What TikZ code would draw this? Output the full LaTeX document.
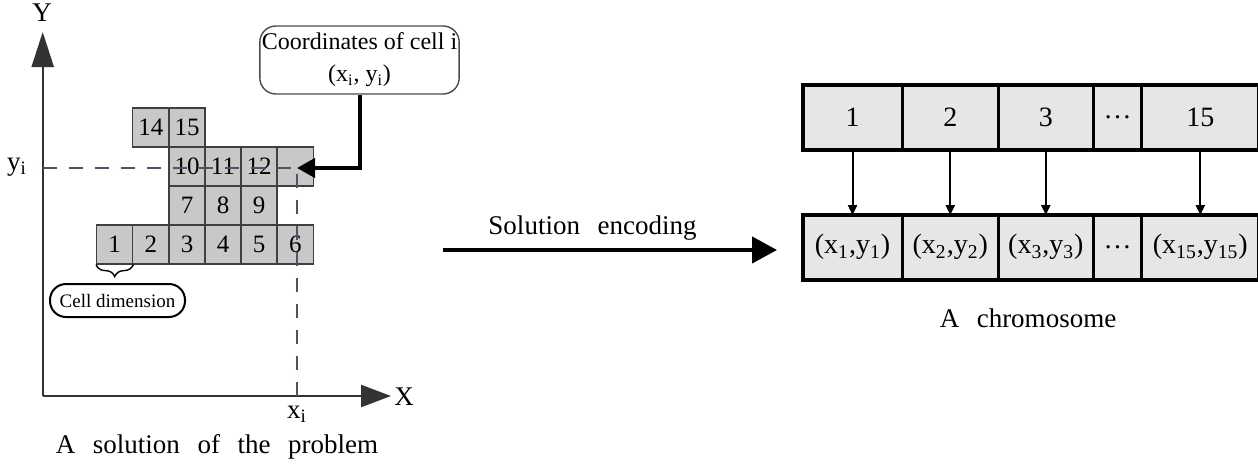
\documentclass[tikz,border=0pt]{standalone}
\usepackage{fontspec}
\setmainfont{Liberation Serif}
\usetikzlibrary{arrows.meta,positioning,decorations.pathreplacing}
\definecolor{cellfill}{RGB}{200,200,200}
\definecolor{celledge}{RGB}{64,64,64}
\definecolor{genefill}{RGB}{230,230,230}
\definecolor{dashcol}{RGB}{75,85,99}
\newcommand{\idx}[1]{\textsubscript{#1}}
\newcommand{\pair}[1]{(x\idx{#1},y\idx{#1})}
\newcommand{\widespace}{\spaceskip 0.65em plus 0.1em\relax}

\begin{document}
\begin{tikzpicture}[x=0.5pt,y=-0.5pt,
    cell/.style={draw=celledge,fill=cellfill,line width=0.6pt,minimum width=18.05pt,
        minimum height=19.5pt,inner sep=0pt,font=\fontsize{12.5}{14}\selectfont},
    gene/.style={draw=black,line width=0.7pt,fill=genefill,minimum height=31.5pt,
        inner sep=0pt,font=\fontsize{14}{16}\selectfont},
    caption/.style={font={\fontsize{13.5}{16}\selectfont\widespace}},
    bighead/.style={-{Triangle[length=#1,width=11pt]}}]
    \useasboundingbox (0,0) rectangle (1258,466);

    % axes
    \coordinate (o) at (42.7,396);
    \coordinate (ytip) at (42.7,32);
    \coordinate (xtip) at (391,396);
    \draw [line width=1.2pt, draw=black!80, bighead=17.5pt] (o) -- (ytip);
    \draw [line width=1.2pt, draw=black!80, bighead=15pt] (o) -- (xtip);
    \node [caption] (ylab) at (42,13) {Y};
    \node [caption] (xlab) at (404,397) {X};

    % cells of the solution
    \foreach \name/\txt/\cx/\cy in {c1/1/114.7/244.5, c2/2/150.8/244.5, c3/3/187/244.5,
        c4/4/223/244.5, c5/5/259/244.5, c6/6/295.3/244.5,
        c7/7/187/205.5, c8/8/223/205.5, c9/9/259/205.5,
        c10/10/187/166.5, c11/11/223/166.5, c12/12/259/166.5, ci//295.3/166.5,
        c14/14/150.8/127.5, c15/15/187/127.5}
        \node [cell] (\name) at (\cx,\cy) {\txt};

    % position of cell i
    \coordinate (pi) at (297,168);
    \draw [dashcol, line width=1pt, dash pattern=on 7pt off 6pt] (o |- pi) -- (pi) -- (pi |- o);
    \node [font=\fontsize{13.5}{16}\selectfont] (yi) at (17,167) {y\idx{i}};
    \node [font=\fontsize{13.5}{16}\selectfont] (xi) at (297,414) {x\idx{i}};

    \node [draw=black!70, rounded corners=8pt, line width=0.7pt, minimum width=97.5pt,
        minimum height=34pt, inner sep=1pt, align=center,
        font=\fontsize{12}{16}\selectfont] (coord) at (359.5,60)
        {Coordinates of cell i\\(x\idx{i}, y\idx{i})};
    \draw [line width=2pt, -{Triangle[length=9pt,width=9.5pt]}] (coord.south) |- (pi);

    % cell dimension
    \draw [decorate, decoration={brace, mirror, amplitude=6pt}, line width=0.7pt]
        (c1.south west) -- (c1.south east);
    \node [draw=black, line width=1pt, rounded corners=8pt, minimum width=67.5pt,
        minimum height=16.5pt, inner sep=1pt, font=\fontsize{9.5}{11}\selectfont]
        (dim) at (117.5,300.5) {Cell dimension};

    \node [caption] (sol) at (217,447) {A solution of the problem};

    % encoding
    \coordinate (encA) at (443,250);
    \coordinate (encB) at (777,250);
    \draw [line width=2.2pt, -{Triangle[length=12.5pt,width=13pt]}] (encA) -- (encB);
    \node [caption] (enc) at (592.5,228) {Solution encoding};

    % chromosome
    \node [gene, minimum width=49.2pt] (g1) at (852.5,117.5) {1};
    \node [gene, minimum width=47.15pt, right=0pt of g1] (g2) {2};
    \node [gene, minimum width=47pt, right=0pt of g2] (g3) {3};
    \node [gene, minimum width=23.35pt, right=0pt of g3] (gd) {\dots};
    \node [gene, minimum width=58pt, right=0pt of gd] (g15) {15};
    \draw [line width=2pt] (g1.north west) rectangle (g15.south east);

    \node [gene, minimum width=49.2pt] (p1) at (852.5,247.3) {\pair{1}};
    \node [gene, minimum width=47.15pt, right=0pt of p1] (p2) {\pair{2}};
    \node [gene, minimum width=47pt, right=0pt of p2] (p3) {\pair{3}};
    \node [gene, minimum width=23.35pt, right=0pt of p3] (pd) {\dots};
    \node [gene, minimum width=58pt, right=0pt of pd] (p15) {\pair{15}};
    \draw [line width=2pt] (p1.north west) rectangle (p15.south east);

    \foreach \k in {1,2,3,15}
        \draw [line width=1pt, -{Triangle[length=5pt,width=4.5pt]}] (g\k.south) -- (p\k.north);

    \node [caption] (chrom) at (1028,318) {A chromosome};
\end{tikzpicture}
\end{document}
